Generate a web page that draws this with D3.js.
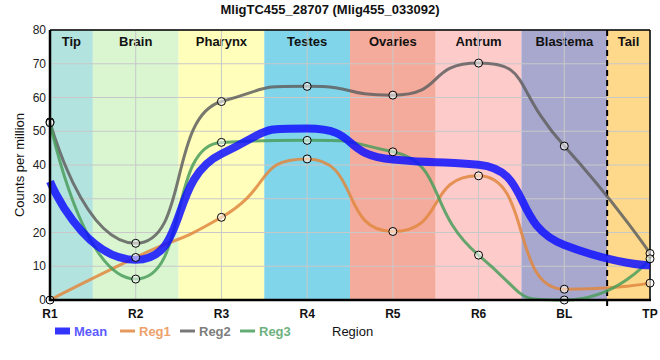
<!DOCTYPE html>
<html><head><meta charset="utf-8">
<script src="https://cdn.jsdelivr.net/npm/d3@7"></script>
<style>body{margin:0;background:#fff;font-family:"Liberation Sans",Arial,sans-serif}</style>
</head><body><svg id="c" width="660" height="360"></svg>
<script>
const categories = ["R1","R2","R3","R4","R5","R6","BL","TP"];
const regions = ["Tip","Brain","Pharynx","Testes","Ovaries","Antrum","Blastema","Tail"];
const regionColors = ["#b3e3de","#d9f6d1","#ffffbb","#80d5ea","#f5ab9c","#fecbcb","#a8a8cf","#ffd98b"];
const yTicks = [0,10,20,30,40,50,60,70,80];
const mean = [35.1,11.9,43.3,50.8,41.6,40.1,16.3,10.3];
const reg1 = [0,12.6,24.5,41.8,20.3,36.8,3.2,5.0];
const reg2 = [52.8,16.8,58.8,63.3,60.7,70.2,45.6,13.8];
const reg3 = [52.5,6.2,46.7,47.3,43.9,13.3,0,12.2];

const svg = d3.select("#c");
const L=50,R=650,T=30,B=300;
const x = d3.scalePoint().domain(categories).range([L,R]);
const y = d3.scaleLinear().domain([0,80]).range([B,T]);
const step = x.step();
const SMOOTH = 0.62;

regions.forEach((r,i)=>{
  const cx = x(categories[i]);
  const x0 = Math.max(L, cx - step/2), x1 = Math.min(R, cx + step/2);
  svg.append("rect").attr("x",x0).attr("y",T).attr("width",x1-x0).attr("height",B-T).attr("fill",regionColors[i]);
  svg.append("text").attr("x",(x0+x1)/2).attr("y",T+16).attr("text-anchor","middle")
    .attr("font-size",13).attr("font-weight","bold").attr("fill","#111").text(r);
});

const g = svg.append("g");
yTicks.forEach(t=>{
  g.append("line").attr("x1",L).attr("x2",R).attr("y1",y(t)).attr("y2",y(t)).attr("stroke","#c8c8c8").attr("stroke-width",1);
});
categories.forEach(c=>{
  g.append("line").attr("x1",x(c)).attr("x2",x(c)).attr("y1",T).attr("y2",B).attr("stroke","#c8c8c8").attr("stroke-width",1);
});

const xd = x("BL")+step/2;
svg.append("line").attr("x1",xd).attr("x2",xd).attr("y1",T).attr("y2",B+8).attr("stroke","#000").attr("stroke-width",2).attr("stroke-dasharray","6,4");

svg.append("line").attr("x1",L).attr("x2",R).attr("y1",T).attr("y2",T).attr("stroke","#000").attr("stroke-width",1.5);
svg.append("line").attr("x1",R).attr("x2",R).attr("y1",T).attr("y2",B).attr("stroke","#000").attr("stroke-width",1.5);

// smooth curve (bezier with control points along neighbouring segments, no false extrema)
function controls(p0,p1,p2,a){
  if(!p2) return [p1[0],p1[1],null,null];
  let l1x=(1-a)*p1[0]+a*p0[0], l1y=(1-a)*p1[1]+a*p0[1];
  let r1x=(1-a)*p1[0]+a*p2[0], r1y=(1-a)*p1[1]+a*p2[1];
  if(l1x!==r1x){
    const dY = p1[1]-r1y-(p1[0]-r1x)*(l1y-r1y)/(l1x-r1x);
    l1y+=dY; r1y+=dY;
  }
  if(l1y>p0[1]&&l1y>p1[1]){l1y=Math.max(p0[1],p1[1]);r1y=2*p1[1]-l1y;}
  else if(l1y<p0[1]&&l1y<p1[1]){l1y=Math.min(p0[1],p1[1]);r1y=2*p1[1]-l1y;}
  if(r1y>p2[1]&&r1y>p1[1]){r1y=Math.max(p1[1],p2[1]);l1y=2*p1[1]-r1y;}
  else if(r1y<p2[1]&&r1y<p1[1]){r1y=Math.min(p1[1],p2[1]);l1y=2*p1[1]-r1y;}
  return [l1x,l1y,r1x,r1y];
}
function smoothPath(vals){
  const pts = vals.map((v,i)=>[x(categories[i]),y(v)]);
  const p = d3.path();
  p.moveTo(pts[0][0],pts[0][1]);
  let lx=pts[0][0], ly=pts[0][1];
  for(let i=1;i<pts.length;i++){
    const c = controls(pts[i-1],pts[i],pts[i+1],SMOOTH);
    p.bezierCurveTo(lx,ly,c[0],c[1],pts[i][0],pts[i][1]);
    lx=c[2]; ly=c[3];
  }
  return p.toString();
}

const series = [
  {v:reg1,c:"#e0873f",w:3,o:0.85},
  {v:reg2,c:"#606060",w:3,o:0.85},
  {v:reg3,c:"#4a9e5c",w:3,o:0.85},
];
series.forEach(s=>{
  svg.append("path").attr("d",smoothPath(s.v)).attr("fill","none").attr("stroke",s.c).attr("stroke-width",s.w).attr("stroke-opacity",s.o);
});
svg.append("path").attr("d",smoothPath(mean)).attr("fill","none").attr("stroke","#1010ff").attr("stroke-width",8).attr("stroke-opacity",0.85);

series.forEach(s=>{
  s.v.forEach((d,i)=>{
    svg.append("circle").attr("cx",x(categories[i])).attr("cy",y(d)).attr("r",4)
      .attr("fill","rgba(255,255,255,0.55)").attr("stroke","#000").attr("stroke-width",1);
  });
});

svg.append("line").attr("x1",L).attr("x2",L).attr("y1",T).attr("y2",B+1).attr("stroke","#000").attr("stroke-width",2.5);
svg.append("line").attr("x1",L-1).attr("x2",R+1).attr("y1",B).attr("y2",B).attr("stroke","#000").attr("stroke-width",2.5);

yTicks.forEach(t=>{
  svg.append("text").attr("x",L-4).attr("y",y(t)+4).attr("text-anchor","end").attr("font-size",12).attr("fill","#222").text(t);
});
categories.forEach(c=>{
  svg.append("text").attr("x",x(c)).attr("y",B+18).attr("text-anchor","middle").attr("font-size",12).attr("font-weight","bold").attr("fill","#111").text(c);
});

svg.append("text").attr("transform",`translate(24,${(T+B)/2}) rotate(-90)`).attr("text-anchor","middle").attr("font-size",13).attr("fill","#111").text("Counts per million");
svg.append("text").attr("x",330).attr("y",14).attr("text-anchor","middle").attr("font-size",13).attr("font-weight","bold").attr("fill","#111").text("MligTC455_28707 (Mlig455_033092)");

const leg = [
  {n:"Mean",c:"#1010ff",tc:"#5b5bff",w:7,x:55},
  {n:"Reg1",c:"#e0873f",tc:"#eda26c",w:3,x:120},
  {n:"Reg2",c:"#606060",tc:"#7d7d7d",w:3,x:180},
  {n:"Reg3",c:"#4a9e5c",tc:"#6db27e",w:3,x:240},
];
const ly = 331;
leg.forEach(l=>{
  svg.append("line").attr("x1",l.x).attr("x2",l.x+15).attr("y1",ly).attr("y2",ly).attr("stroke",l.c).attr("stroke-width",l.w).attr("stroke-opacity",0.85);
  svg.append("text").attr("x",l.x+19).attr("y",ly+5).attr("font-size",13).attr("font-weight","bold").attr("fill",l.tc).text(l.n);
});
svg.append("text").attr("x",332).attr("y",ly+5).attr("font-size",13).attr("fill","#111").text("Region");
</script></body></html>
